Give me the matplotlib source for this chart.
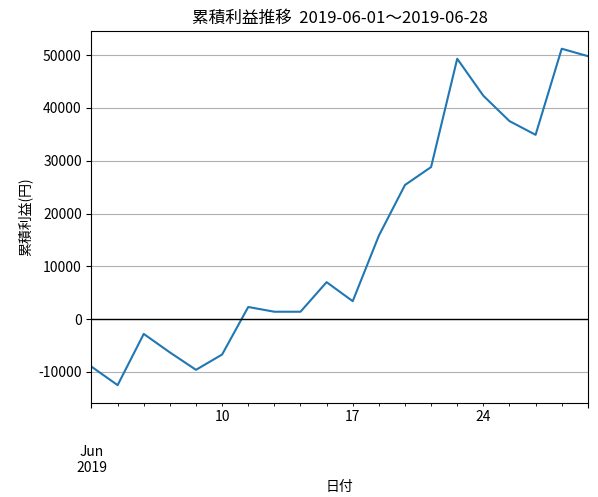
import matplotlib
matplotlib.use("Agg")
import matplotlib.pyplot as plt
import pandas as pd

plt.rcParams['font.family'] = ['Noto Sans CJK JP', 'DejaVu Sans']
plt.rcParams['axes.unicode_minus'] = False

dates = pd.bdate_range("2019-06-03", "2019-06-28")
values = [-9000, -12500, -2800, -6300, -9600, -6700, 2300, 1400, 1400, 7000,
          3400, 15800, 25400, 28800, 49300, 42300, 37500, 34900, 51200, 49800]

s = pd.Series(values, index=dates)
fig, ax = plt.subplots(figsize=(5.98, 4.97), dpi=100)
s.plot(ax=ax, color='#1f77b4')
ax.axhline(0, color='black', linewidth=1)
ax.grid(axis='y')
ax.set_ylim(-15800, 54500)
ax.set_title("累積利益推移  2019-06-01〜2019-06-28")
ax.set_xlabel("日付")
ax.set_ylabel("累積利益(円)")
fig.subplots_adjust(left=0.153, right=0.983, top=0.937, bottom=0.19)
fig.savefig("out.png")
